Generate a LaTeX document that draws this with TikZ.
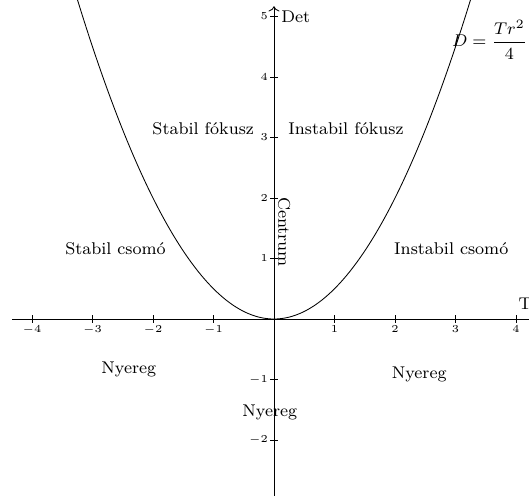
\documentclass[tikz,border=0pt]{standalone}
\usepackage{tikz}
\usetikzlibrary{arrows.meta}
\begin{document}
\begin{tikzpicture}[every node/.style={font=\footnotesize}, ticklabel/.style={font=\tiny,inner sep=1pt}, region/.style={font=\footnotesize}, axis/.style={->,thin}]
\useasboundingbox (-4.529,-2.909) rectangle (4.215,5.273);
% axes
\coordinate (xstart) at (-4.33,0); \coordinate (xend) at (4.6,0);
\coordinate (ystart) at (0,-3); \coordinate (yend) at (0,5.17);
\draw[axis] (xstart)--(xend);
\draw[axis] (ystart)--(yend);
\foreach \x in {-4,-3,-2,-1,1,2,3,4} \draw (\x,0.06)--(\x,-0.06) node[ticklabel,below] {$\x$};
\foreach \y in {-2,-1,1,2,3,4,5} \draw (0.06,\y)--(-0.06,\y) node[ticklabel,left] {$\y$};
\node[anchor=west,inner sep=1pt] (tr) at (4.0,0.25) {Tr};
\node[anchor=west,inner sep=1pt] (det) at (0.08,5.0) {Det};
% parabola
\draw[thin] plot[domain=-3.25:3.25,samples=80,smooth] (\x,{\x*\x/2});
\node[anchor=west] (formula) at (2.82,4.61) {$D=\displaystyle\frac{Tr^2}{4}$};
% regions
\node[region] (sfok) at (-1.17,3.14) {Stabil fókusz};
\node[region] (ifok) at (1.19,3.14) {Instabil fókusz};
\node[region] (scso) at (-2.62,1.16) {Stabil csomó};
\node[region] (icso) at (2.93,1.16) {Instabil csomó};
\node[region,rotate=-90] (centrum) at (0.17,1.44) {Centrum};
\node[region] (nyl) at (-2.40,-0.84) {Nyereg};
\node[region] (nyr) at (2.40,-0.91) {Nyereg};
\node[region] (nyb) at (-0.07,-1.55) {Nyereg};
\end{tikzpicture}
\end{document}
